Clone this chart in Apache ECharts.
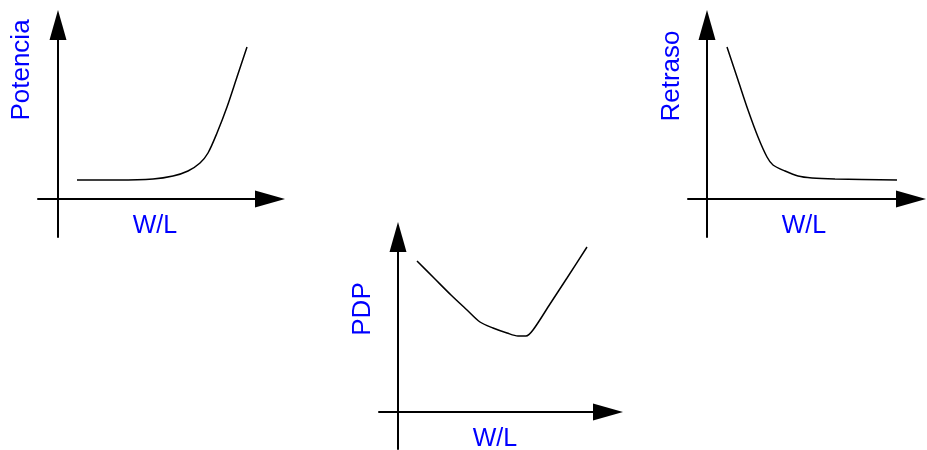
<!DOCTYPE html>
<html>
<head>
<meta charset="utf-8">
<script src="https://cdn.jsdelivr.net/npm/echarts@6/dist/echarts.min.js"></script>
<style>
  html, body { margin: 0; padding: 0; background: #fff; }
  #main { width: 927px; height: 450px; }
</style>
</head>
<body>
<div id="main"></div>
<script>
// sketch curves, [W/L, value] in arbitrary units (origin at the axes crossing)
var potencia = [[19, 19], [60, 19], [95, 20], [115, 23], [130, 28], [142, 36], [150, 46], [159, 66], [169, 92], [179, 122], [189, 152]];
var retraso = [[20, 152], [31, 119], [41, 89], [51, 62], [60, 42], [66, 34], [78, 28], [91, 23], [105, 21], [128, 20], [190, 19]];
var pdp = [[19, 151], [36, 134], [53, 117], [69, 102], [82, 90], [95, 84], [109, 79], [120, 76], [128, 76], [135, 82], [152, 108], [169, 134], [189, 165]];

var yNames = ['Potencia', 'Retraso', 'PDP'];
var xName = 'W/L';

var myChart = echarts.init(document.getElementById('main'));

var font = "'Liberation Sans', Arial, sans-serif";
var blue = '#0000ff';

function axis(min, max) {
    return {
        type: 'value',
        min: min,
        max: max,
        axisLine: {
            show: true,
            onZero: true,
            symbol: ['none', 'triangle'],
            symbolSize: [17, 30],
            lineStyle: { color: '#000', width: 2 }
        },
        axisTick: { show: false },
        axisLabel: { show: false },
        splitLine: { show: false }
    };
}

function curve(i, data) {
    return {
        type: 'line',
        xAxisIndex: i,
        yAxisIndex: i,
        data: data,
        smooth: 0.3,
        showSymbol: false,
        lineStyle: { color: '#000', width: 1.5 }
    };
}

function label(text, x, y, rotated, size) {
    return {
        type: 'text',
        x: x,
        y: y,
        rotation: rotated ? Math.PI / 2 : 0,
        style: {
            text: text,
            fill: blue,
            font: size + 'px ' + font,
            align: 'center',
            verticalAlign: 'middle'
        }
    };
}

var option = {
    backgroundColor: '#fff',
    animation: false,
    grid: [
        { left: 38, top: 25, width: 232, height: 212, outerBoundsMode: 'none' },
        { left: 688, top: 25, width: 223, height: 212, outerBoundsMode: 'none' },
        { left: 379, top: 237, width: 229, height: 212, outerBoundsMode: 'none' }
    ],
    xAxis: [
        Object.assign(axis(-20, 212), { gridIndex: 0 }),
        Object.assign(axis(-19, 204), { gridIndex: 1 }),
        Object.assign(axis(-19, 210), { gridIndex: 2 })
    ],
    yAxis: [
        Object.assign(axis(-38, 174), { gridIndex: 0 }),
        Object.assign(axis(-38, 174), { gridIndex: 1 }),
        Object.assign(axis(-37, 175), { gridIndex: 2 })
    ],
    graphic: [
        label(yNames[0], 22, 70, true, 26),
        label(yNames[1], 672, 76, true, 26),
        label(yNames[2], 363, 309, true, 26),
        label(xName, 155, 226, false, 25),
        label(xName, 804, 226, false, 25),
        label(xName, 495, 439, false, 25)
    ],
    series: [
        curve(0, potencia),
        curve(1, retraso),
        curve(2, pdp)
    ]
};

myChart.setOption(option);
</script>
</body>
</html>
